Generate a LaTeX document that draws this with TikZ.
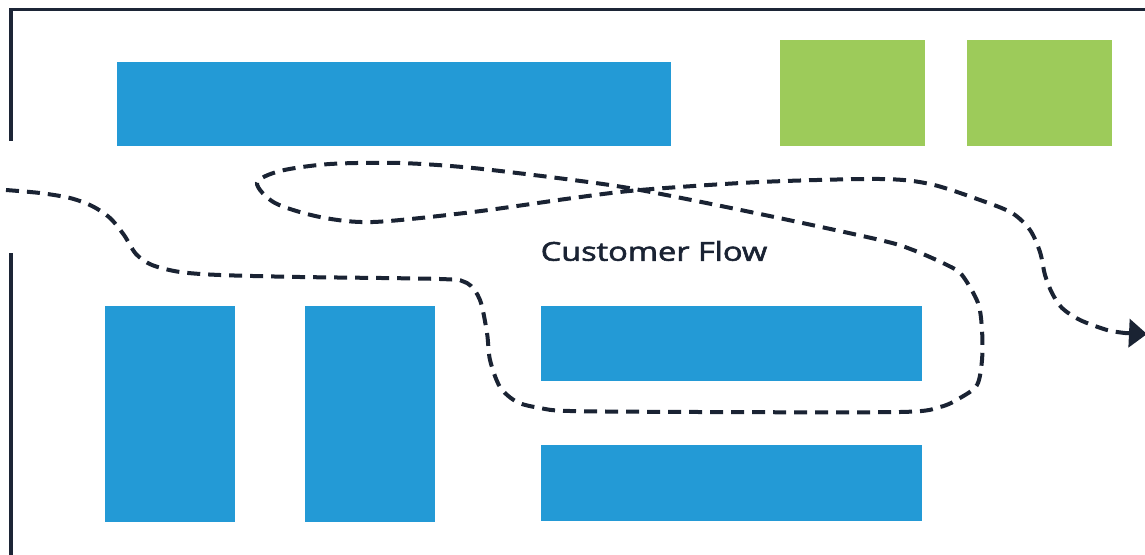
\documentclass[tikz,border=0pt]{standalone}
\usepackage{fontspec}
\newfontfamily\lblfont[FakeBold=2]{Open Sans}
\usetikzlibrary{arrows.meta}
\definecolor{shelfblue}{HTML}{239AD6}
\definecolor{shelfgreen}{HTML}{9DCB5A}
\definecolor{wallnavy}{HTML}{1C2536}
\definecolor{flownavy}{HTML}{1A2333}
\tikzset{
  wall/.style={draw=wallnavy, line width=3.5pt},
  blueshelf/.style={fill=shelfblue},
  greenshelf/.style={fill=shelfgreen},
  flowpath/.style={draw=flownavy, line width=4pt, dash pattern=on 13pt off 8pt},
  flowtip/.style={-{Triangle[length=18pt,width=28pt]}},
}
\begin{document}
\begin{tikzpicture}[x=1pt,y=-1pt]
\useasboundingbox (0,0) rectangle (1145,554);
\fill[white] (0,0) rectangle (1145,554);
% walls
\draw[wall] (1146,9.5) -- (11,9.5) -- (11,141);
\draw[wall] (11,253) -- (11,556);
% shelves
\fill[blueshelf] (117,62) rectangle (671,146);
\fill[greenshelf] (780,40) rectangle (925,146);
\fill[greenshelf] (967,40) rectangle (1112,146);
\fill[blueshelf] (105,306) rectangle (235,522);
\fill[blueshelf] (305,306) rectangle (435,522);
\fill[blueshelf] (541,306) rectangle (922,381);
\fill[blueshelf] (541,445) rectangle (922,521);
% label
\node[text=flownavy, font=\lblfont\fontsize{26}{30}\selectfont, anchor=center, xscale=1.25, inner sep=0pt] (lbl) at (654,251) {Customer Flow};
% flow path
\draw[flowpath] plot[smooth, tension=0.5] coordinates {
 (6,190) (40,193) (70,198) (92,206) (110,218) (124,235) (136,254) (152,265) (180,272) (220,275) (300,277)
 (440,279) (467,283) (480,300) (487,333) (490,360) (500,387) (517,402) (540,408) (570,411)
 (700,412) (900,412) (940,407) (960,398) (977,385) (982,360) (982,330) (978,303) (962,275)
 (947,265) (913,250) (880,240) (760,214) (640,190) (573,180) (473,168) (400,163) (330,164)
 (280,171) (257,183) (275,203) (320,217) (373,222) (473,212) (573,198) (640,190) (760,182) (880,179)
 (930,184) (980,200) (1012,213) (1030,230) (1040,252) (1045,275) (1052,293) (1062,308)
 (1080,320) (1107,330) (1125,333)};
\coordinate (tipstart) at (1125,333);
\coordinate (tipend) at (1147,334);
\draw[draw=flownavy, line width=4pt, flowtip, fill=flownavy] (tipstart) -- (tipend);
\end{tikzpicture}
\end{document}
